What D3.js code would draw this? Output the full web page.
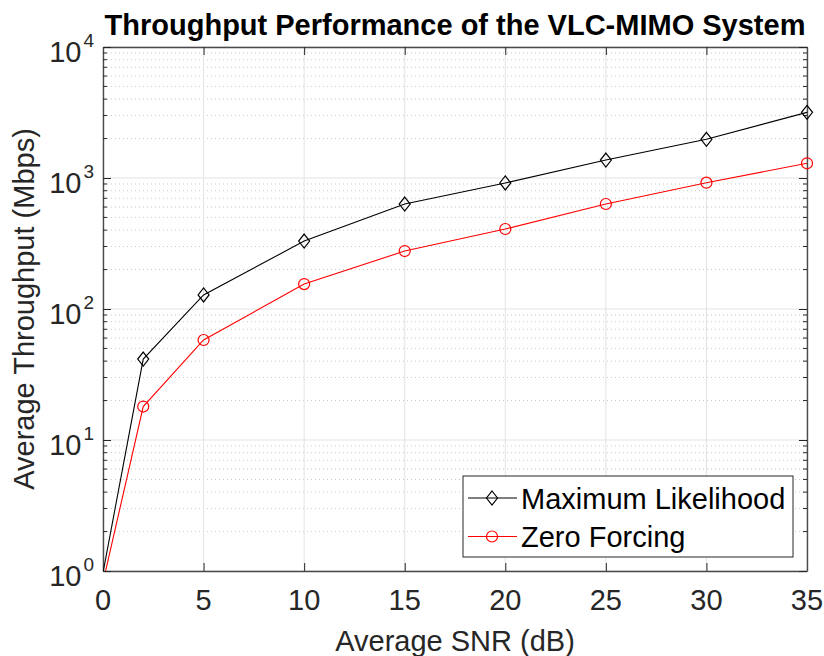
<!DOCTYPE html>
<html lang="en">
<head>
  <meta charset="UTF-8">
  <title>Throughput Performance of the VLC-MIMO System</title>
  <script src="https://d3js.org/d3.v7.min.js"></script>
  <style>
    body { margin: 0; background: #fff; }
    text { font-family: "Liberation Sans", Arial, Helvetica, sans-serif; fill: #262626; }
  </style>
</head>
<body>
  <script>
    // data
    const snr = [0, 2, 5, 10, 15, 20, 25, 30, 35];
    const mlThroughput = [0.97, 41.5, 128, 330, 633, 916, 1372, 1974, 3170];
    const zfThroughput = [0.82, 18, 58, 155, 277, 408, 633, 921, 1295];
    const seriesNames = ["Maximum Likelihood", "Zero Forcing"];
    const xTicks = [0, 5, 10, 15, 20, 25, 30, 35];
    const yExponents = [0, 1, 2, 3, 4];

    const width = 824, height = 656;
    const margin = { top: 47, right: 17, bottom: 85, left: 103 };
    const iw = width - margin.left - margin.right;
    const ih = height - margin.top - margin.bottom;

    const svg = d3.select("body").append("svg")
      .attr("width", width)
      .attr("height", height);

    const g = svg.append("g")
      .attr("transform", `translate(${margin.left},${margin.top})`);

    const x = d3.scaleLinear().domain([0, 35]).range([0, iw]);
    const y = d3.scaleLog().domain([1, 1e4]).range([ih, 0]);

    const majorY = yExponents.map(e => Math.pow(10, e));
    const minorY = y.ticks().filter(v => !majorY.includes(v));

    // grid
    g.append("g").selectAll("line")
      .data(minorY).join("line")
      .attr("x1", 0).attr("x2", iw)
      .attr("y1", d => y(d)).attr("y2", d => y(d))
      .attr("stroke", "#c8c8c8")
      .attr("stroke-dasharray", "1,3");

    g.append("g").selectAll("line")
      .data(majorY).join("line")
      .attr("x1", 0).attr("x2", iw)
      .attr("y1", d => y(d)).attr("y2", d => y(d))
      .attr("stroke", "#e3e3e3");

    g.append("g").selectAll("line")
      .data(xTicks).join("line")
      .attr("x1", d => x(d)).attr("x2", d => x(d))
      .attr("y1", 0).attr("y2", ih)
      .attr("stroke", "#e3e3e3");

    // axes, ticks inside on all four sides
    const axStyle = sel => {
      sel.select(".domain").attr("stroke", "#4a4a4a").attr("stroke-width", 1.4);
      sel.selectAll(".tick line").attr("stroke", "#262626");
      sel.selectAll(".tick text").remove();
    };

    g.append("g").attr("transform", `translate(0,${ih})`)
      .call(d3.axisBottom(x).tickValues(xTicks).tickSizeInner(-8).tickSizeOuter(0))
      .call(axStyle);
    g.append("g")
      .call(d3.axisTop(x).tickValues(xTicks).tickSizeInner(-8).tickSizeOuter(0))
      .call(axStyle);
    g.append("g")
      .call(d3.axisLeft(y).tickValues(majorY).tickSizeInner(-8).tickSizeOuter(0))
      .call(axStyle);
    g.append("g").attr("transform", `translate(${iw},0)`)
      .call(d3.axisRight(y).tickValues(majorY).tickSizeInner(-8).tickSizeOuter(0))
      .call(axStyle);

    // minor y ticks
    [[0, 4], [iw, -4]].forEach(([x0, len]) => {
      g.append("g").selectAll("line")
        .data(minorY).join("line")
        .attr("x1", x0).attr("x2", x0 + len)
        .attr("y1", d => y(d)).attr("y2", d => y(d))
        .attr("stroke", "#262626");
    });

    // tick labels
    g.append("g").selectAll("text")
      .data(xTicks).join("text")
      .attr("x", d => x(d))
      .attr("y", ih + 39)
      .attr("text-anchor", "middle")
      .attr("font-size", 29)
      .text(d => d);

    const yl = g.append("g").selectAll("text")
      .data(yExponents).join("text")
      .attr("x", -9)
      .attr("y", d => y(Math.pow(10, d)) + 15)
      .attr("text-anchor", "end")
      .attr("font-size", 29);
    yl.append("tspan").text("10");
    yl.append("tspan")
      .attr("font-size", 19)
      .attr("dy", -15)
      .attr("dx", 2)
      .text(d => d);

    // axis labels and title
    g.append("text")
      .attr("x", iw / 2)
      .attr("y", ih + 80)
      .attr("text-anchor", "middle")
      .attr("font-size", 29)
      .text("Average SNR (dB)");

    g.append("text")
      .attr("transform", `translate(${34 - margin.left},${ih / 2}) rotate(-90)`)
      .attr("text-anchor", "middle")
      .attr("font-size", 29)
      .text("Average Throughput (Mbps)");

    svg.append("text")
      .attr("x", margin.left + iw / 2)
      .attr("y", 35)
      .attr("text-anchor", "middle")
      .attr("font-size", 29)
      .attr("font-weight", "bold")
      .style("fill", "#000")
      .text("Throughput Performance of the VLC-MIMO System");

    // series
    svg.append("defs").append("clipPath").attr("id", "plot-clip")
      .append("rect").attr("width", iw).attr("height", ih);

    const series = [
      { name: seriesNames[0], values: mlThroughput, color: "#000000", marker: "diamond" },
      { name: seriesNames[1], values: zfThroughput, color: "#ff0000", marker: "circle" }
    ];

    const line = d3.line()
      .x((d, i) => x(snr[i]))
      .y(d => y(d));

    const diamond = (cx, cy) => `M${cx},${cy - 7}L${cx + 5.5},${cy}L${cx},${cy + 7}L${cx - 5.5},${cy}Z`;

    const drawMarker = (sel, s, cx, cy) => {
      if (s.marker === "diamond") {
        sel.append("path").attr("d", diamond(cx, cy))
          .attr("fill", "none").attr("stroke", s.color).attr("stroke-width", 1.2);
      } else {
        sel.append("circle").attr("cx", cx).attr("cy", cy).attr("r", 5.5)
          .attr("fill", "none").attr("stroke", s.color).attr("stroke-width", 1.2);
      }
    };

    series.forEach(s => {
      g.append("path")
        .datum(s.values)
        .attr("clip-path", "url(#plot-clip)")
        .attr("fill", "none")
        .attr("stroke", s.color)
        .attr("stroke-width", 1.1)
        .attr("d", line);
      const mg = g.append("g");
      s.values.forEach((v, i) => {
        if (v >= 1) drawMarker(mg, s, x(snr[i]), y(v));
      });
    });

    // legend
    const lg = svg.append("g").attr("transform", "translate(463,476)");
    lg.append("rect")
      .attr("width", 330).attr("height", 81)
      .attr("fill", "#fff")
      .attr("stroke", "#262626")
      .attr("stroke-width", 1);
    series.forEach((s, i) => {
      const cy = 22 + i * 38.5;
      lg.append("line")
        .attr("x1", 5).attr("x2", 54)
        .attr("y1", cy).attr("y2", cy)
        .attr("stroke", s.color).attr("stroke-width", 1.1);
      drawMarker(lg, s, 29, cy);
      lg.append("text")
        .attr("x", 58)
        .attr("y", cy + 10.5)
        .attr("font-size", 29)
        .style("fill", "#000")
        .text(s.name);
    });
  </script>
</body>
</html>
